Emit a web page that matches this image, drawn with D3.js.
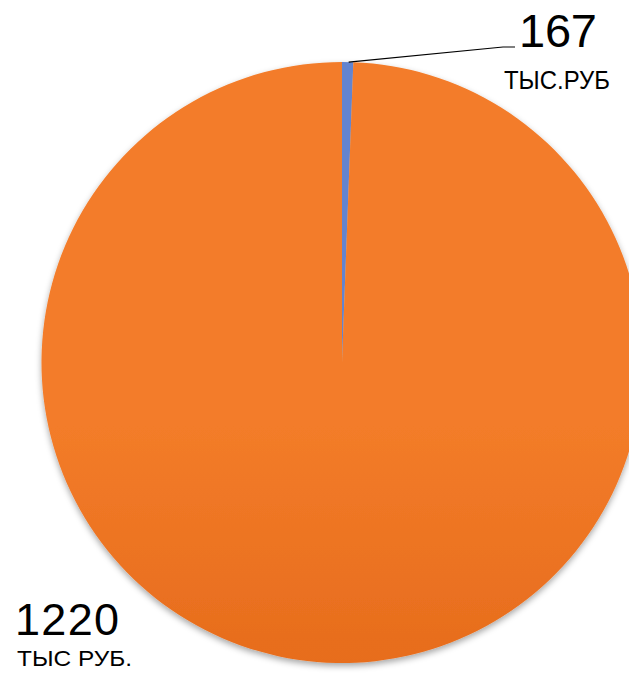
<!DOCTYPE html>
<html>
<head>
<meta charset="utf-8">
<script src="https://cdn.jsdelivr.net/npm/d3@7"></script>
<style>
  html, body { margin: 0; padding: 0; background: #fff; }
  svg { display: block; }
</style>
</head>
<body>
<svg id="chart" width="629" height="676"></svg>
<script>
'use strict';

// slice shares as they look in the picture (blue one is a thin sliver)
var categories = ['a', 'b'];
var shares = [0.6, 99.4];
var valueLabels = ['167', '1220'];
var unitLabels = ['ТЫС.РУБ', 'ТЫС РУБ.'];

var svg = d3.select('#chart');
var cx = 342, cy = 362.5, radius = 300.5;

var defs = svg.append('defs');

var gradOrange = defs.append('linearGradient')
    .attr('id', 'gOrange')
    .attr('gradientUnits', 'userSpaceOnUse')
    .attr('x1', 0).attr('y1', cy - radius)
    .attr('x2', 0).attr('y2', cy + radius);
gradOrange.append('stop').attr('offset', '0%').attr('stop-color', '#f37c29');
gradOrange.append('stop').attr('offset', '35%').attr('stop-color', '#e86e1e');
gradOrange.append('stop').attr('offset', '70%').attr('stop-color', '#e3691a');
gradOrange.append('stop').attr('offset', '100%').attr('stop-color', '#e06617');

var gradBlue = defs.append('linearGradient')
    .attr('id', 'gBlue')
    .attr('gradientUnits', 'userSpaceOnUse')
    .attr('x1', 0).attr('y1', cy - radius)
    .attr('x2', 0).attr('y2', cy);
gradBlue.append('stop').attr('offset', '0%').attr('stop-color', '#6384cf');
gradBlue.append('stop').attr('offset', '100%').attr('stop-color', '#4472c4');

var shadow = defs.append('filter')
    .attr('id', 'shadow')
    .attr('x', '-10%').attr('y', '-10%')
    .attr('width', '120%').attr('height', '120%');
shadow.append('feDropShadow')
    .attr('dx', 0).attr('dy', 3)
    .attr('stdDeviation', 3)
    .attr('flood-color', '#000')
    .attr('flood-opacity', 0.35);

var pie = d3.pie().sort(null).value(function(d) { return d; });
var arc = d3.arc().innerRadius(0).outerRadius(radius);
var arcs = pie(shares);
var fills = ['url(#gBlue)', 'url(#gOrange)'];

var g = svg.append('g')
    .attr('transform', 'translate(' + cx + ',' + cy + ')');

g.append('g')
    .attr('filter', 'url(#shadow)')
  .selectAll('path')
    .data(arcs)
  .enter().append('path')
    .attr('d', arc)
    .attr('fill', function(d, i) { return fills[i]; });

// leader line for the small slice
var mid = (arcs[0].startAngle + arcs[0].endAngle) / 2;
var p0 = [cx + radius * Math.sin(mid) + 1, cy - radius * Math.cos(mid)];
svg.append('polyline')
    .attr('points', [p0, [503, 47], [515, 47]].map(function(p) { return p.join(','); }).join(' '))
    .attr('fill', 'none')
    .attr('stroke', '#000')
    .attr('stroke-width', 1.2);

var font = '"Liberation Sans", Arial, sans-serif';

svg.append('text')
    .attr('x', 519).attr('y', 47)
    .attr('font-family', font)
    .attr('font-size', 47)
    .attr('textLength', 78)
    .attr('fill', '#000')
    .text(valueLabels[0]);

svg.append('text')
    .attr('x', 504).attr('y', 89)
    .attr('font-family', font)
    .attr('font-size', 25)
    .attr('textLength', 106)
    .attr('lengthAdjust', 'spacingAndGlyphs')
    .attr('fill', '#000')
    .text(unitLabels[0]);

svg.append('text')
    .attr('x', 15).attr('y', 635)
    .attr('font-family', font)
    .attr('font-size', 45)
    .attr('textLength', 104)
    .attr('fill', '#000')
    .text(valueLabels[1]);

svg.append('text')
    .attr('x', 17).attr('y', 666)
    .attr('font-family', font)
    .attr('font-size', 22)
    .attr('textLength', 115)
    .attr('lengthAdjust', 'spacingAndGlyphs')
    .attr('fill', '#000')
    .text(unitLabels[1]);
</script>
</body>
</html>
